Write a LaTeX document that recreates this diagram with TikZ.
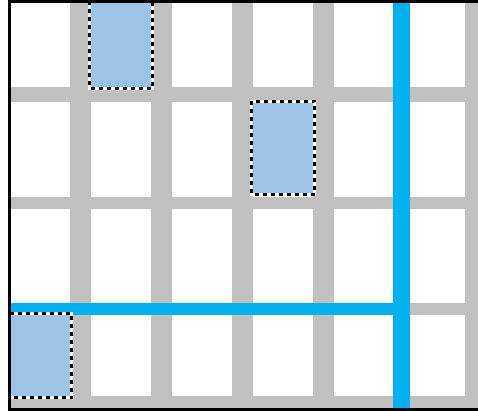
\documentclass[tikz,border=0pt]{standalone}

\definecolor{roadgrey}{HTML}{C0C0C0}
\definecolor{routeblue}{HTML}{00B0F0}
\definecolor{blockblue}{HTML}{9DC3E6}

\begin{document}
\begin{tikzpicture}[x=1pt, y=-1pt,
		road/.style={fill=roadgrey},
		route/.style={fill=routeblue},
		block/.style={draw=black, line width=3pt, dash pattern=on 4pt off 4pt,
			preaction={fill=blockblue, draw=white, line width=3pt, solid}}]
		\useasboundingbox (0,0) rectangle (478,411);
		\fill[white] (0,0) rectangle (478,411);
		% grey streets
		\foreach \x in {70,151,232,313}
			\fill[road] (\x,0) rectangle ++(21,408);
		\fill[road] (465,0) rectangle (478,408);
		\foreach \y/\h in {87/15,197/12,396/12}
			\fill[road] (11,\y) rectangle (478,\y+\h);
		\fill[road] (407,303) rectangle (478,315);
		% blue route
		\fill[route] (11,303) rectangle (410,315);
		\fill[route] (393,0) rectangle (410,408);
		% marked blocks
		\draw[block] (89.5,1.5) rectangle (152.5,88.5);
		\draw[block] (251.5,101.5) rectangle (314.5,194.5);
		\draw[block] (9.5,313.5) rectangle (71.5,397.5);
		% frame
		\fill[black] (8,0) rectangle (478,3);
		\fill[black] (8,0) rectangle (11,411);
		\fill[black] (8,408) rectangle (478,411);
	\end{tikzpicture}
\end{document}
